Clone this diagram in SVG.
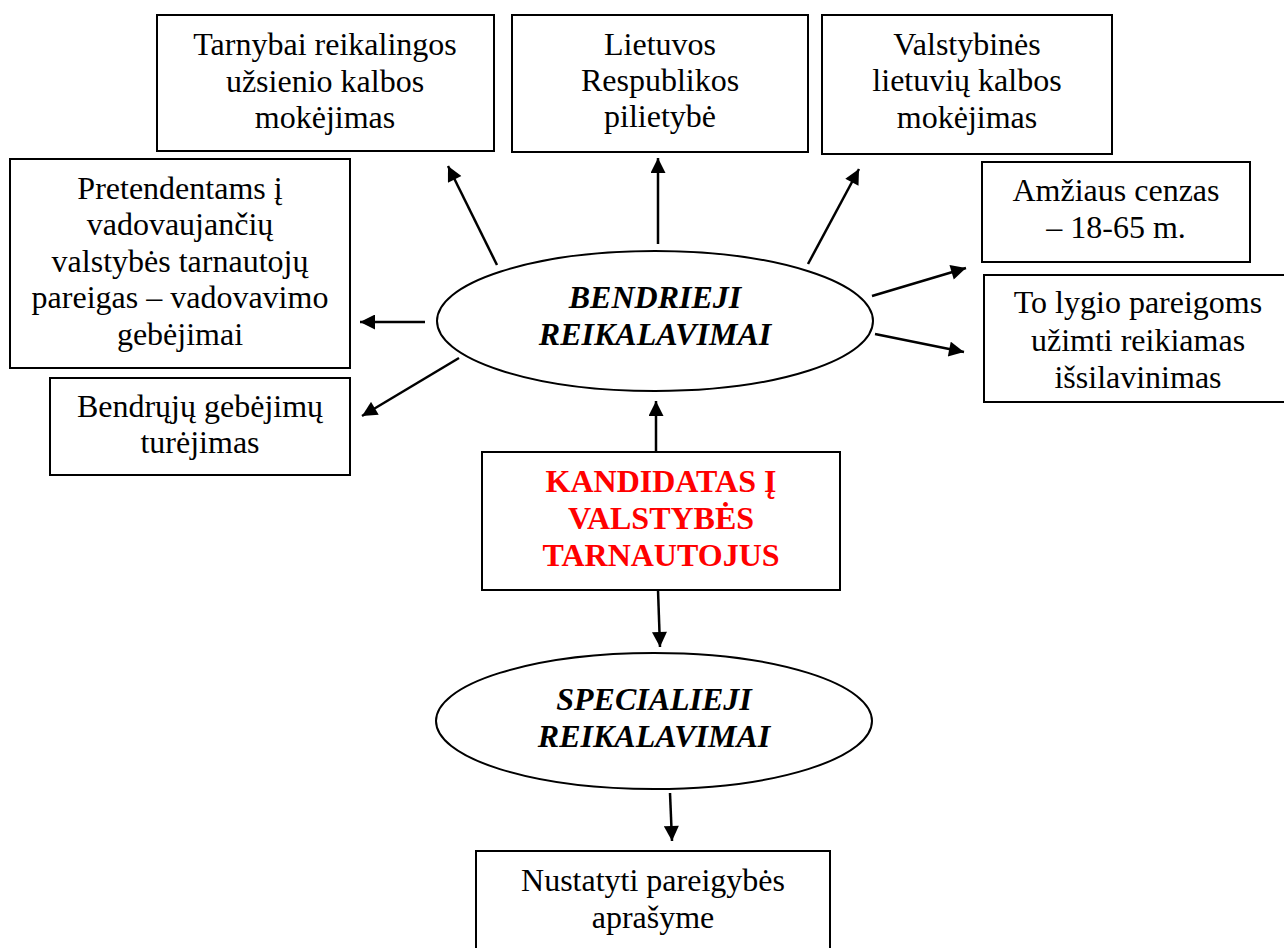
<svg xmlns="http://www.w3.org/2000/svg" width="1284" height="948" viewBox="0 0 1284 948">
<style>
.box{fill:#fff;stroke:#000;stroke-width:2}
text{font-family:'Liberation Serif',Tinos,'Times New Roman',Times,serif;font-size:32px;fill:#000;text-anchor:middle}
.bi{font-weight:bold;font-style:italic}
.red{font-weight:bold;fill:#ff0000}
.c{stroke:#000;stroke-width:2.5;fill:none;marker-end:url(#ah)}
</style>
<defs>
<marker id="ah" viewBox="0 0 10 10" refX="10" refY="5" markerWidth="7" markerHeight="6" markerUnits="strokeWidth" orient="auto">
<path d="M0,0 L10,5 L0,10 z" fill="#000"/>
</marker>
</defs>
<rect width="1284" height="948" fill="#fff"/>
<g id="connectors">
<line class="c" x1="656" y1="452" x2="656" y2="401"/>
<line class="c" x1="658" y1="244" x2="658" y2="158"/>
<line class="c" x1="808" y1="264" x2="859" y2="169"/>
<line class="c" x1="497" y1="265" x2="448" y2="166"/>
<line class="c" x1="425" y1="322" x2="360" y2="322"/>
<line class="c" x1="459" y1="358" x2="362" y2="416"/>
<line class="c" x1="872" y1="296" x2="966" y2="268"/>
<line class="c" x1="875" y1="334" x2="964" y2="352"/>
<line class="c" x1="658" y1="590" x2="660" y2="647"/>
<line class="c" x1="670" y1="793" x2="672" y2="841"/>
</g>
<g id="n-tarnybai">
<rect class="box" x="157" y="15" width="337" height="136"/>
<text x="325" y="55">Tarnybai reikalingos</text>
<text x="325" y="92">užsienio kalbos</text>
<text x="325" y="128">mokėjimas</text>
</g>
<g id="n-lietuvos">
<rect class="box" x="512" y="15" width="296" height="137"/>
<text x="660" y="55">Lietuvos</text>
<text x="660" y="91">Respublikos</text>
<text x="660" y="127">pilietybė</text>
</g>
<g id="n-valstybines">
<rect class="box" x="822" y="15" width="290" height="139"/>
<text x="967" y="55">Valstybinės</text>
<text x="967" y="91">lietuvių kalbos</text>
<text x="967" y="128">mokėjimas</text>
</g>
<g id="n-amzius">
<rect class="box" x="982" y="162" width="268" height="100"/>
<text x="1116" y="201">Amžiaus cenzas</text>
<text x="1116" y="238">– 18-65 m.</text>
</g>
<g id="n-tolygio">
<rect class="box" x="984" y="275" width="310" height="127"/>
<text x="1138" y="313">To lygio pareigoms</text>
<text x="1138" y="351">užimti reikiamas</text>
<text x="1138" y="388">išsilavinimas</text>
</g>
<g id="n-pretendentams">
<rect class="box" x="10" y="159" width="340" height="209"/>
<text x="180" y="199">Pretendentams į</text>
<text x="180" y="235">vadovaujančių</text>
<text x="180" y="272">valstybės tarnautojų</text>
<text x="180" y="308">pareigas – vadovavimo</text>
<text x="180" y="345">gebėjimai</text>
</g>
<g id="n-bendruju">
<rect class="box" x="50" y="378" width="300" height="97"/>
<text x="200" y="417">Bendrųjų gebėjimų</text>
<text x="200" y="453">turėjimas</text>
</g>
<g id="n-bendrieji">
<ellipse class="box" cx="655" cy="321" rx="218" ry="70"/>
<text class="bi" x="655" y="308">BENDRIEJI</text>
<text class="bi" x="655" y="345">REIKALAVIMAI</text>
</g>
<g id="n-kandidatas">
<rect class="box" x="482" y="452" width="358" height="138"/>
<text class="red" x="661" y="492">KANDIDATAS Į</text>
<text class="red" x="661" y="529">VALSTYBĖS</text>
<text class="red" x="661" y="566">TARNAUTOJUS</text>
</g>
<g id="n-specialieji">
<ellipse class="box" cx="654" cy="721" rx="218" ry="68"/>
<text class="bi" x="654" y="710">SPECIALIEJI</text>
<text class="bi" x="654" y="747">REIKALAVIMAI</text>
</g>
<g id="n-nustatyti">
<rect class="box" x="476" y="851" width="354" height="110"/>
<text x="653" y="891">Nustatyti pareigybės</text>
<text x="653" y="928">aprašyme</text>
</g>
</svg>
